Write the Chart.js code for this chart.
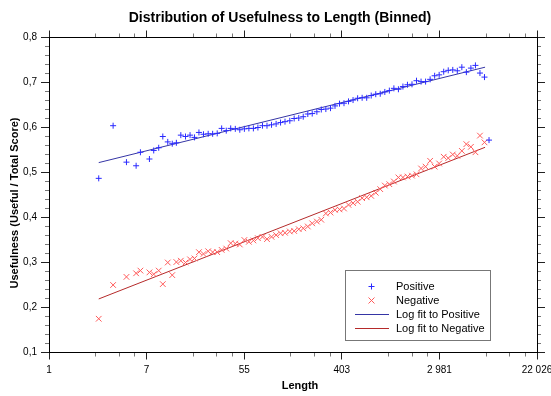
<!DOCTYPE html>
<html>
<head>
<meta charset="utf-8">
<script src="https://cdn.jsdelivr.net/npm/chart.js@4.4.1/dist/chart.umd.min.js"></script>
<style>
html,body{margin:0;padding:0;background:#fff;}
canvas{display:block;}
</style>
</head>
<body>
<canvas id="chart" width="551" height="396"></canvas>
<script>
// bin lengths (x)
const lengths = [2.77, 3.72, 4.89, 5.96, 6.51, 7.83, 8.55, 9.47, 10.3, 11.4, 12.5,
13.6, 14.9, 16.4, 18.0, 19.7, 21.6, 23.7, 26.1, 28.6, 31.4, 34.4, 37.8, 41.4, 45.5, 49.9,
54.8, 60.1, 65.9, 72.3, 79.4, 87.1, 95.6, 105, 115, 126, 139, 152, 167, 183, 201,
220, 242, 265, 291, 320, 351, 385, 422, 463, 508, 558, 612, 672, 737, 809,
887, 974, 1069, 1173, 1287, 1412, 1549, 1700, 1865, 2047, 2246, 2465, 2704, 2967, 3256,
3573, 3921, 4302, 4721, 5180, 5684, 6237, 6844, 7510, 8241];

const positive = [0.487, 0.604, 0.523, 0.515, 0.545, 0.530, 0.549, 0.555, 0.580, 0.568, 0.564,
0.566, 0.583, 0.580, 0.583, 0.578, 0.589, 0.585, 0.586, 0.586, 0.587, 0.598, 0.593, 0.598, 0.597, 0.595,
0.597, 0.598, 0.598, 0.600, 0.604, 0.604, 0.606, 0.608, 0.611, 0.613, 0.615, 0.620, 0.621, 0.624, 0.630,
0.631, 0.635, 0.640, 0.641, 0.643, 0.648, 0.653, 0.654, 0.658, 0.661, 0.665, 0.666, 0.666, 0.671, 0.674,
0.675, 0.679, 0.682, 0.687, 0.685, 0.691, 0.695, 0.696, 0.704, 0.702, 0.702, 0.707, 0.715, 0.717, 0.724,
0.727, 0.728, 0.726, 0.734, 0.723, 0.732, 0.738, 0.721, 0.712, 0.572];

const negative = [0.175, 0.250, 0.268, 0.276, 0.282, 0.278, 0.274, 0.282, 0.252, 0.300, 0.272,
0.301, 0.304, 0.300, 0.307, 0.309, 0.323, 0.319, 0.325, 0.323, 0.323, 0.328, 0.331, 0.343, 0.342, 0.340,
0.350, 0.346, 0.349, 0.354, 0.357, 0.352, 0.357, 0.361, 0.365, 0.366, 0.369, 0.370, 0.374, 0.376, 0.380,
0.387, 0.391, 0.395, 0.409, 0.411, 0.417, 0.418, 0.420, 0.428, 0.432, 0.435, 0.443, 0.445, 0.448, 0.455,
0.463, 0.471, 0.474, 0.480, 0.489, 0.489, 0.491, 0.493, 0.496, 0.509, 0.513, 0.526, 0.513, 0.520, 0.535,
0.532, 0.540, 0.537, 0.548, 0.563, 0.557, 0.545, 0.582, 0.567, null];

// log fit lines, ends only
const fitLengths = [2.77, 7600];
const fitPositive = [0.522, 0.734];
const fitNegative = [0.219, 0.556];

// x ticks at e^0, e^2 ... e^10
const xTickPowers = [0, 2, 4, 6, 8, 10];
const xMinorSteps = [0.955, 1.44, 1.76];
const yTicks = [0.1, 0.2, 0.3, 0.4, 0.5, 0.6, 0.7, 0.8];

const pts = (xs, ys) => xs.map((x, i) => ({x: x, y: ys[i]})).filter(p => p.y != null);

const FONT = "'Liberation Sans', Arial, sans-serif";
Chart.defaults.font.family = FONT;
Chart.defaults.font.size = 10;
Chart.defaults.color = "#000";

const px = v => Math.floor(v) + 0.5;

const decor = {
  id: "decor",
  afterDatasetsDraw(chart){
    const ctx = chart.ctx, a = chart.chartArea;
    const xs = chart.scales.x, ys = chart.scales.y;
    ctx.save();
    ctx.lineWidth = 1;
    // minor ticks
    ctx.strokeStyle = "#777";
    ctx.beginPath();
    xTickPowers.slice(0, -1).forEach(p => {
      xMinorSteps.forEach(s => {
        const x = px(xs.getPixelForValue(Math.exp(p + s)));
        ctx.moveTo(x, a.bottom); ctx.lineTo(x, a.bottom + 4);
        ctx.moveTo(x, a.top); ctx.lineTo(x, a.top - 4);
      });
    });
    for (let i = 5; i <= 40; i++){
      if (i % 5 == 0) continue;
      const y = px(ys.getPixelForValue(i * 0.02));
      ctx.moveTo(a.left, y); ctx.lineTo(a.left - 4, y);
      ctx.moveTo(a.right, y); ctx.lineTo(a.right + 4, y);
    }
    ctx.stroke();
    // major ticks
    ctx.strokeStyle = "#222";
    ctx.beginPath();
    xTickPowers.forEach(p => {
      const x = px(xs.getPixelForValue(Math.exp(p)));
      ctx.moveTo(x, a.bottom); ctx.lineTo(x, a.bottom + 7);
      ctx.moveTo(x, a.top); ctx.lineTo(x, a.top - 7);
    });
    yTicks.forEach(v => {
      const y = px(ys.getPixelForValue(v));
      ctx.moveTo(a.left, y); ctx.lineTo(a.left - 8, y);
      ctx.moveTo(a.right, y); ctx.lineTo(a.right + 8, y);
    });
    ctx.stroke();
    // frame
    ctx.strokeStyle = "#000";
    ctx.strokeRect(px(a.left), px(a.top), Math.round(a.right - a.left), Math.round(a.bottom - a.top));
    ctx.restore();
  },
  afterDraw(chart){
    const ctx = chart.ctx, a = chart.chartArea;
    ctx.save();
    ctx.fillStyle = "#000";
    ctx.textBaseline = "middle";
    ctx.textAlign = "center";
    ctx.font = "bold 14px " + FONT;
    ctx.fillText("Distribution of Usefulness to Length (Binned)", 280, 18);
    ctx.font = "bold 11px " + FONT;
    ctx.fillText("Length", 300, 386);
    ctx.translate(15, 203);
    ctx.rotate(-Math.PI / 2);
    ctx.fillText("Usefulness (Useful / Total Score)", 0, 0);
    ctx.restore();

    // legend
    ctx.save();
    const bx = 345.5, by = 270.5, bw = 145, bh = 70;
    ctx.fillStyle = "#fff";
    ctx.fillRect(bx, by, bw, bh);
    ctx.strokeStyle = "#777";
    ctx.lineWidth = 1;
    ctx.strokeRect(bx, by, bw, bh);
    const rows = [286.5, 300.5, 314.5, 328.5];
    ctx.font = "11px " + FONT;
    ctx.textBaseline = "middle";
    ctx.textAlign = "left";
    chart.data.datasets.forEach((ds, i) => {
      const y = rows[i];
      ctx.strokeStyle = ds.borderColor;
      ctx.beginPath();
      if (ds.type === "line"){
        ctx.moveTo(355, y); ctx.lineTo(389, y);
      } else if (ds.pointStyle === "cross"){
        ctx.moveTo(371.5, y - 3); ctx.lineTo(371.5, y + 3);
        ctx.moveTo(368.5, y); ctx.lineTo(374.5, y);
      } else {
        ctx.moveTo(368.5, y - 3); ctx.lineTo(374.5, y + 3);
        ctx.moveTo(374.5, y - 3); ctx.lineTo(368.5, y + 3);
      }
      ctx.stroke();
      ctx.fillStyle = "#000";
      ctx.fillText(ds.label, 396, y);
    });
    ctx.restore();
  }
};

new Chart(document.getElementById("chart"), {
  type: "scatter",
  data: {
    datasets: [{
      label: "Positive",
      data: pts(lengths, positive),
      pointStyle: "cross",
      pointRadius: 3,
      borderColor: "#2a2aff",
      backgroundColor: "#2a2aff",
      borderWidth: 1
    }, {
      label: "Negative",
      data: pts(lengths, negative),
      pointStyle: "crossRot",
      pointRadius: 4,
      borderColor: "#ff5a5a",
      backgroundColor: "#ff5a5a",
      borderWidth: 1
    }, {
      label: "Log fit to Positive",
      type: "line",
      data: pts(fitLengths, fitPositive),
      borderColor: "#3535a5",
      borderWidth: 1,
      pointRadius: 0,
      fill: false
    }, {
      label: "Log fit to Negative",
      type: "line",
      data: pts(fitLengths, fitNegative),
      borderColor: "#b52a2a",
      borderWidth: 1,
      pointRadius: 0,
      fill: false
    }]
  },
  options: {
    responsive: false,
    animation: false,
    devicePixelRatio: 1,
    layout: {autoPadding: false, padding: {top: 37.5, right: 14, left: 0, bottom: 0}},
    plugins: {legend: {display: false}, tooltip: {enabled: false}, title: {display: false}},
    scales: {
      x: {
        type: "logarithmic",
        min: 1,
        max: Math.exp(10),
        grid: {display: false, drawTicks: false},
        border: {display: false},
        afterBuildTicks: s => { s.ticks = xTickPowers.map(p => ({value: Math.exp(p)})); },
        afterFit: s => { s.height = 43.5; s.paddingLeft = 0; s.paddingRight = 0; },
        ticks: {
          autoSkip: false,
          maxRotation: 0,
          padding: 12,
          callback: v => String(Math.round(v)).replace(/\B(?=(\d{3})+(?!\d))/g, " ")
        }
      },
      y: {
        min: 0.1,
        max: 0.8,
        grid: {display: false, drawTicks: false},
        border: {display: false},
        afterBuildTicks: s => { s.ticks = yTicks.map(v => ({value: v})); },
        afterFit: s => { s.width = 49; s.paddingTop = 0; s.paddingBottom = 0; },
        ticks: {
          padding: 12,
          callback: v => v.toFixed(1).replace(".", ",")
        }
      }
    }
  },
  plugins: [decor]
});
</script>
</body>
</html>
